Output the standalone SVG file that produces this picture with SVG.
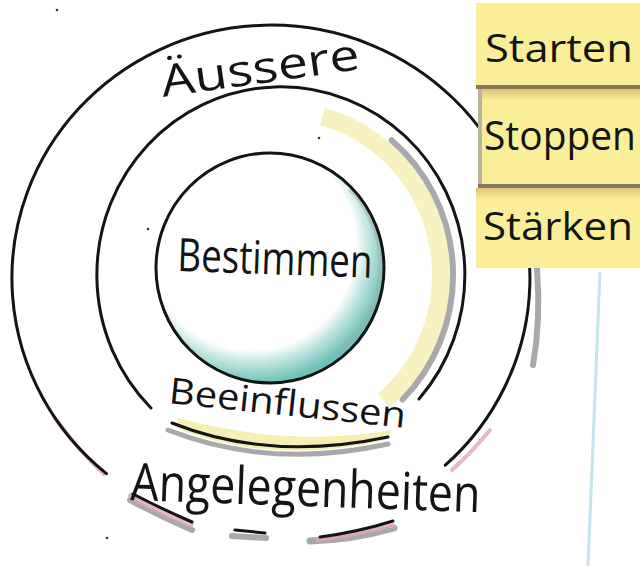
<svg xmlns="http://www.w3.org/2000/svg" width="640" height="566" viewBox="0 0 640 566">
  <defs>
    <style>
      .ink { fill: none; stroke: #141414; stroke-width: 3; stroke-linecap: round; }
      .shadow { fill: none; stroke: #a9a9ab; stroke-linecap: round; }
      .pink { fill: none; stroke: #e3a6b4; stroke-linecap: round; opacity: 0.8; }
      .hand { font-family: "Open Sans", "Liberation Sans", sans-serif; fill: #141414; }
      .note { fill: #faef98; }
      .noteEdge { fill: #85795a; }
      .noteTop { fill: url(#noteShade); }
    </style>
    <linearGradient id="noteShade" x1="0" y1="0" x2="0" y2="1">
      <stop offset="0" stop-color="#dcc47a"/>
      <stop offset="1" stop-color="#faef98"/>
    </linearGradient>
    <radialGradient id="teal" cx="0.42" cy="0.4" r="0.6">
      <stop offset="0.76" stop-color="#ffffff"/>
      <stop offset="0.86" stop-color="#bfe5df"/>
      <stop offset="1" stop-color="#6fc2b8"/>
    </radialGradient>
  </defs>

  <rect width="640" height="566" fill="#ffffff"/>

  <!-- faint blue line on the right -->
  <path d="M600,272 L588,566" fill="none" stroke="#c6e3ec" stroke-width="3"/>

  <!-- specks -->
  <g fill="#333">
    <circle cx="57" cy="10" r="1.3"/>
    <circle cx="319" cy="138" r="1.3"/>
    <circle cx="292" cy="210" r="1.3"/>
    <circle cx="148" cy="229" r="1.3"/>
    <circle cx="107" cy="538" r="1.3"/>
  </g>

  <!-- outer ring: Äussere Angelegenheiten -->
  <g id="outer-ring">
    <path class="pink" d="M55,418 Q78,450 104,474" stroke-width="4"/>
    <path class="pink" d="M452,470 Q472,452 490,430" stroke-width="4"/>
    <path class="shadow" d="M537,268 Q541,320 533,365" stroke-width="6"/>
    <path class="ink" d="M106.5,473.6 A259,253 0 1 1 445.3,465.2"/>
    <!-- broken bottom dashes -->
    <path class="shadow" d="M130,500 Q160,516 192,530" stroke-width="6"/>
    <path class="pink" d="M131,496 Q160,512 191,524" stroke-width="6"/>
    <path class="ink" d="M133,494 Q162,509 192,522"/>
    <path class="shadow" d="M232,536 L266,538" stroke-width="6"/>
    <path class="ink" d="M235,530 L265,533"/>
    <path class="shadow" d="M310,541 Q352,540 394,528" stroke-width="7"/>
    <path class="pink" d="M318,540 Q356,535 393,525" stroke-width="4"/>
    <path class="ink" d="M320,537 Q358,532 393,521"/>
  </g>

  <!-- middle ring: Beeinflussen -->
  <g id="middle-ring">
    <path d="M322.4,116.6 A160,164 0 0 1 383.8,400.6" fill="none" stroke="#f8f2c2" stroke-width="18"/>
    <path d="M176,428 Q270,466 386,440 L392,430 Q290,448 178,418 Z" fill="#f6efb4"/>
    <path class="shadow" d="M391.6,140.2 A172,176 0 0 1 402.6,399.5" stroke-width="6"/>
    <path class="ink" d="M151,408 A184,188 0 1 1 419,399"/>
    <path class="shadow" d="M168,430 Q270,470 388,444" stroke-width="5"/>
    <path class="ink" d="M172,423 Q270,462 388,437"/>
  </g>

  <!-- inner circle: Bestimmen -->
  <g id="inner-circle">
    <ellipse cx="270" cy="268" rx="114" ry="115" fill="url(#teal)"/>
    <path class="shadow" d="M350,190 A106,108 0 0 1 340,350" stroke-width="3" opacity="0.5"/>
    <ellipse class="ink" cx="270" cy="268" rx="114" ry="115"/>
  </g>

  <!-- labels -->
  <g id="labels">
    <text class="hand" x="163" y="97" font-size="44" textLength="200" lengthAdjust="spacingAndGlyphs" transform="rotate(-8 163 97)">Äussere</text>
    <text class="hand" x="177" y="271" font-size="46" textLength="195" lengthAdjust="spacingAndGlyphs" transform="rotate(2 177 271)">Bestimmen</text>
    <text class="hand" x="168" y="403" font-size="36" textLength="238" lengthAdjust="spacingAndGlyphs" transform="rotate(6 168 403)">Beeinflussen</text>
    <text class="hand" x="130" y="500" font-size="52" textLength="350" lengthAdjust="spacingAndGlyphs" transform="rotate(2 130 500)">Angelegenheiten</text>
  </g>

  <!-- sticky notes -->
  <g id="note-starten">
    <rect class="note" x="476" y="3" width="164" height="84"/>
    <rect class="noteEdge" x="476" y="85" width="164" height="4"/>
    <text class="hand" x="485" y="62" font-size="38" textLength="148" lengthAdjust="spacingAndGlyphs">Starten</text>
  </g>
  <g id="note-stoppen">
    <rect class="note" x="481" y="89" width="159" height="96"/>
    <rect class="noteTop" x="481" y="89" width="159" height="12"/>
    <rect fill="#b9b3a0" x="478" y="89" width="4" height="96"/>
    <rect class="noteEdge" x="478" y="184" width="162" height="4"/>
    <text class="hand" x="484" y="150" font-size="40" textLength="152" lengthAdjust="spacingAndGlyphs">Stoppen</text>
  </g>
  <g id="note-staerken">
    <rect class="note" x="476" y="188" width="164" height="80"/>
    <rect class="noteTop" x="476" y="188" width="164" height="12"/>
    <text class="hand" x="483" y="240" font-size="38" textLength="150" lengthAdjust="spacingAndGlyphs">Stärken</text>
  </g>

  <g id="connectors"/>
</svg>
